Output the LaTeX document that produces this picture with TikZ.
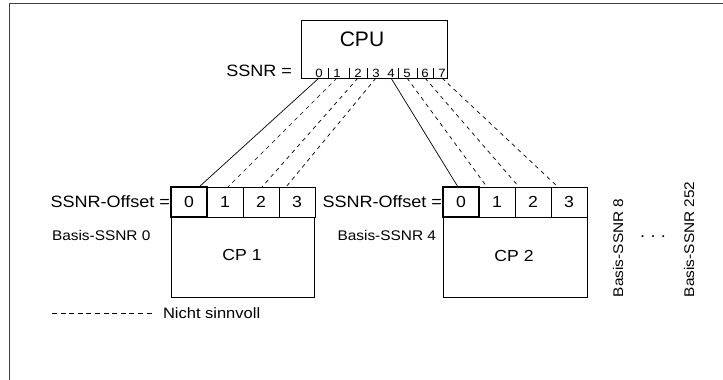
\documentclass[tikz,border=0pt]{standalone}
\usepackage{fontspec}
\setmainfont[FakeStretch=1.1]{Liberation Sans}
\newfontfamily\cpufont{Liberation Sans}
\begin{document}
\begin{tikzpicture}[x=1pt,y=-1pt,
  every node/.style={inner sep=0pt, outer sep=0pt},
  box/.style={draw, line width=0.8pt},
  cell/.style={box, minimum width=36pt, minimum height=30pt, anchor=north west,
               font=\fontsize{16}{16}\selectfont},
  thickcell/.style={cell, line width=2.2pt},
  label/.style={font=\fontsize{16.4}{16}\selectfont},
  basis/.style={font=\fontsize{14}{14}\selectfont},
  digit/.style={font=\fontsize{12}{12}\selectfont, anchor=base},
  valid/.style={line width=0.7pt},
  invalid/.style={line width=0.7pt, dash pattern=on 4pt off 4pt},
  frameline/.style={line width=1pt, black!75}]
\useasboundingbox (0,0) rectangle (723,380);

% outer frame (top and left edges only)
\draw[frameline] (9,380) -- (9,3) -- (723,3);

% CPU with its SSNR numbers along the bottom edge
\node[box, minimum width=146pt, minimum height=58pt, anchor=north west] (cpu) at (301,20) {};
\node (cputxt) at (362,39) {\fontsize{21}{21}\cpufont CPU};
\node[label, anchor=east] (ssnr) at (292,71) {SSNR =};
\foreach \n/\x in {0/319,1/337,2/358,3/376,4/391,5/407,6/425,7/442}{
  \node[digit] (d\n) at (\x,77.5) {\n};
  \coordinate (s\n) at (\x,78);
}
\foreach \x in {328,349,367,398,417,433}{
  \draw[line width=0.6pt] (\x,68) -- (\x,78);
}

% CP 1
\node[thickcell] (c10) at (171,187) {0};
\node[cell] (c11) at (207,187) {1};
\node[cell] (c12) at (243,187) {2};
\node[cell] (c13) at (279,187) {3};
\node[box, minimum width=143pt, minimum height=80pt, anchor=north west] (cp1) at (171,217) {};
\node[font=\fontsize{16}{16}\selectfont] (cp1txt) at (242,255) {CP 1};
\node[label, anchor=east] (off1) at ([xshift=-1pt]c10.west) {SSNR-Offset =};
\node[basis, anchor=west] (bas0) at (52,235) {Basis-SSNR 0};

% CP 2
\node[thickcell] (c20) at (443,187) {0};
\node[cell] (c21) at (479,187) {1};
\node[cell] (c22) at (515,187) {2};
\node[cell] (c23) at (551,187) {3};
\node[box, minimum width=144pt, minimum height=80pt, anchor=north west] (cp2) at (443,217) {};
\node[font=\fontsize{16}{16}\selectfont] (cp2txt) at (514,256) {CP 2};
\node[label, anchor=east] (off2) at ([xshift=-1pt]c20.west) {SSNR-Offset =};
\node[basis, anchor=east] (bas4) at (436,235) {Basis-SSNR 4};

% further CPs
\node[basis, rotate=90, anchor=west] (bas8) at (618,297) {Basis-SSNR 8};
\node[basis, rotate=90, anchor=west] (bas252) at (689,297) {Basis-SSNR 252};
\node[label] (dots) at (653,237) {.\,\,.\,\,.};

% SSNR assignment
\draw[valid]   (s0) -- ([xshift=10pt]c10.north);
\draw[invalid] (s1) -- ([xshift=3pt]c11.north);
\draw[invalid] (s2) -- ([xshift=1pt]c12.north);
\draw[invalid] (s3) -- ([xshift=-11pt]c13.north);
\draw[valid]   (s4) -- ([xshift=-3pt]c20.north);
\draw[invalid] (s5) -- ([xshift=-10pt]c21.north);
\draw[invalid] (s6) -- ([xshift=-14pt]c22.north);
\draw[invalid] (s7) -- ([xshift=-11pt]c23.north);

% legend
\coordinate (lg1) at (52,313);
\coordinate (lg2) at (155,313);
\draw[line width=0.7pt, dash pattern=on 5pt off 3.6pt] (lg1) -- (lg2);
\node[font=\fontsize{15}{15}\selectfont, anchor=west] (lgtxt) at (163,313) {Nicht sinnvoll};
\end{tikzpicture}
\end{document}
